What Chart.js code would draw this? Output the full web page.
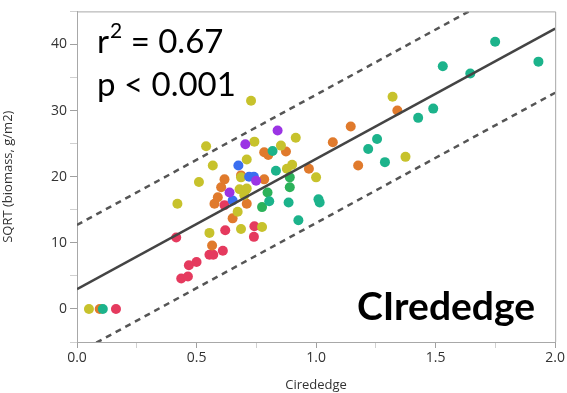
<!DOCTYPE html>
<html>
<head>
<meta charset="utf-8">
<script src="https://cdn.jsdelivr.net/npm/chart.js@4"></script>
<style>
  html, body { margin: 0; padding: 0; background: #fff; }
  #wrap { width: 567px; height: 393px; }
</style>
</head>
<body>
<div id="wrap"><canvas id="myChart" width="567" height="393"></canvas></div>
<script>
// data
var ciRededge = [
  0.05, 0.095, 0.108, 0.163,
  0.415, 0.436, 0.464, 0.468, 0.50, 0.554, 0.57, 0.61, 0.62, 0.617, 0.742, 0.74,
  0.565, 0.651, 0.575, 0.589, 0.603, 0.617, 0.71, 0.686, 0.783, 0.783, 0.80, 0.874, 0.97, 1.07, 1.145, 1.176, 1.34,
  0.42, 0.51, 0.54, 0.568, 0.554, 0.672, 0.686, 0.774, 0.68, 0.71, 0.70, 0.686, 0.71, 0.742, 0.728, 0.853, 0.90, 0.878, 0.915, 1.0, 1.32, 1.374,
  0.774, 0.797, 0.89, 0.89,
  0.804, 0.885, 1.01, 1.015, 0.926, 0.818, 0.832, 1.218, 1.255, 1.288, 1.427, 1.49, 1.53, 1.645, 1.749, 1.93,
  0.675, 0.72, 0.74, 0.651,
  0.704, 0.839, 0.749, 0.638
];
var sqrtBiomass = [
  0, 0, 0, 0,
  10.8, 4.6, 4.9, 6.6, 7.1, 8.2, 8.2, 8.8, 11.9, 15.7, 12.5, 10.9,
  9.6, 13.7, 15.9, 16.9, 18.4, 19.6, 15.9, 20.2, 19.6, 23.7, 23.3, 23.8, 21.2, 25.2, 27.6, 21.7, 30.0,
  15.9, 19.2, 24.6, 21.7, 11.5, 14.7, 12.1, 12.4, 18.1, 18.2, 17.2, 19.9, 22.6, 25.3, 31.5, 24.7, 21.8, 21.2, 25.9, 19.9, 32.1, 23.0,
  15.4, 17.6, 18.4, 19.9,
  16.3, 16.1, 16.6, 16.1, 13.4, 23.9, 20.9, 24.2, 25.7, 22.2, 28.9, 30.3, 36.7, 35.6, 40.4, 37.4,
  21.7, 20.0, 20.0, 16.4,
  24.9, 27.0, 19.4, 17.6
];
var colorGroup = [
  'yellow', 'orange', 'teal', 'red',
  'red', 'red', 'red', 'red', 'red', 'red', 'red', 'red', 'red', 'red', 'red', 'red',
  'orange', 'orange', 'orange', 'orange', 'orange', 'orange', 'orange', 'orange', 'orange', 'orange', 'orange', 'orange', 'orange', 'orange', 'orange', 'orange', 'orange',
  'yellow', 'yellow', 'yellow', 'yellow', 'yellow', 'yellow', 'yellow', 'yellow', 'yellow', 'yellow', 'yellow', 'yellow', 'yellow', 'yellow', 'yellow', 'yellow', 'yellow', 'yellow', 'yellow', 'yellow', 'yellow', 'yellow',
  'green', 'green', 'green', 'green',
  'teal', 'teal', 'teal', 'teal', 'teal', 'teal', 'teal', 'teal', 'teal', 'teal', 'teal', 'teal', 'teal', 'teal', 'teal', 'teal',
  'blue', 'blue', 'blue', 'blue',
  'purple', 'purple', 'purple', 'purple'
];

// fit line and prediction band
var lineX = [0, 2];
var fitY = [3.0, 42.4];
var upperY = [12.7, 52.1];
var lowerY = [-6.7, 32.7];

var xTickLabels = ['0.0', '0.5', '1.0', '1.5', '2.0'];
var yTickLabels = ['0', '10', '20', '30', '40'];

var palette = {
  red: '#e53a5e',
  orange: '#e07a2c',
  yellow: '#c7c22c',
  green: '#2cb25a',
  teal: '#1cb38b',
  blue: '#3a6ef0',
  purple: '#9b34e4'
};

function toPoints(xs, ys) {
  return xs.map(function (x, i) { return { x: x, y: ys[i] }; });
}

// frame + text on the plot
var annotate = {
  id: 'annotate',
  afterDatasetsDraw: function (chart) {
    var ctx = chart.ctx;
    var a = chart.chartArea;
    ctx.save();
    ctx.strokeStyle = '#a8a8a8';
    ctx.lineWidth = 1;
    ctx.beginPath();
    ctx.moveTo(a.left, a.top + 0.5);
    ctx.lineTo(a.right + 0.5, a.top + 0.5);
    ctx.lineTo(a.right + 0.5, a.bottom);
    ctx.stroke();

    ctx.fillStyle = '#000';
    ctx.textBaseline = 'alphabetic';
    ctx.textAlign = 'left';
    ctx.font = '33px Lato';
    ctx.fillText('r', 97, 53);
    var rw = ctx.measureText('r').width;
    ctx.font = '21px Lato';
    ctx.fillText('2', 97 + rw + 1, 38);
    var sw = ctx.measureText('2').width;
    ctx.font = '33px Lato';
    ctx.fillText(' = 0.67', 97 + rw + sw + 1, 53);
    ctx.fillText('p < 0.001', 97, 96);

    ctx.font = 'bold 39px Lato';
    ctx.fillText('CIrededge', 357, 320);
    ctx.restore();
  }
};

var canvas = document.getElementById('myChart');
var ctx = canvas.getContext('2d');

var tickFont = { family: 'Open Sans', size: 14 };

var myChart = new Chart(ctx, {
  type: 'scatter',
  data: {
    datasets: [{
      label: 'fit',
      type: 'line',
      data: toPoints(lineX, fitY),
      borderColor: '#444',
      borderWidth: 2.5,
      pointRadius: 0,
      order: 0
    }, {
      label: 'upper',
      type: 'line',
      data: toPoints(lineX, upperY),
      borderColor: '#555',
      borderWidth: 2.5,
      borderDash: [6, 5],
      pointRadius: 0,
      order: 0
    }, {
      label: 'lower',
      type: 'line',
      data: toPoints(lineX, lowerY),
      borderColor: '#555',
      borderWidth: 2.5,
      borderDash: [6, 5],
      pointRadius: 0,
      order: 0
    }, {
      label: 'plots',
      data: toPoints(ciRededge, sqrtBiomass),
      pointBackgroundColor: colorGroup.map(function (g) { return palette[g]; }),
      pointBorderWidth: 0,
      pointRadius: 5,
      order: 1
    }]
  },
  options: {
    responsive: false,
    animation: false,
    layout: { padding: { top: 7, right: 10, left: 0, bottom: 0 } },
    plugins: {
      legend: { display: false },
      tooltip: { enabled: false }
    },
    scales: {
      x: {
        type: 'linear',
        min: 0,
        max: 2,
        border: { color: '#a8a8a8' },
        grid: {
          drawOnChartArea: false, drawTicks: true, tickLength: 6,
          color: function (c) { return c.tick && Math.abs(c.tick.value * 2 - Math.round(c.tick.value * 2)) < 1e-6 ? '#a0a0a0' : '#d0d0d0'; }
        },
        ticks: {
          stepSize: 0.25,
          autoSkip: false,
          maxRotation: 0,
          color: '#333',
          font: tickFont,
          padding: 2,
          callback: function (v) {
            var s = v.toFixed(1);
            return xTickLabels.indexOf(s) >= 0 && Math.abs(v * 2 - Math.round(v * 2)) < 1e-6 ? s : '';
          }
        },
        title: { display: true, text: 'Cirededge', color: '#333', font: { family: 'Open Sans', size: 13 }, padding: { top: 0, bottom: 0 } },
        afterFit: function (s) { s.height = 51; }
      },
      y: {
        type: 'linear',
        min: -5,
        max: 45,
        border: { color: '#a8a8a8' },
        grid: {
          drawOnChartArea: false, drawTicks: true, tickLength: 7,
          color: function (c) { return c.tick && c.tick.value % 10 === 0 ? '#a0a0a0' : '#d0d0d0'; }
        },
        ticks: {
          stepSize: 5,
          autoSkip: false,
          color: '#333',
          font: tickFont,
          padding: 3,
          callback: function (v) {
            var s = String(v);
            return yTickLabels.indexOf(s) >= 0 ? s : '';
          }
        },
        title: { display: true, text: 'SQRT (biomass, g/m2)', color: '#333', font: { family: 'Open Sans', size: 13 }, padding: { top: 0, bottom: 4 } },
        afterFit: function (s) { s.width = 77; }
      }
    }
  },
  plugins: [annotate]
});
</script>
</body>
</html>
